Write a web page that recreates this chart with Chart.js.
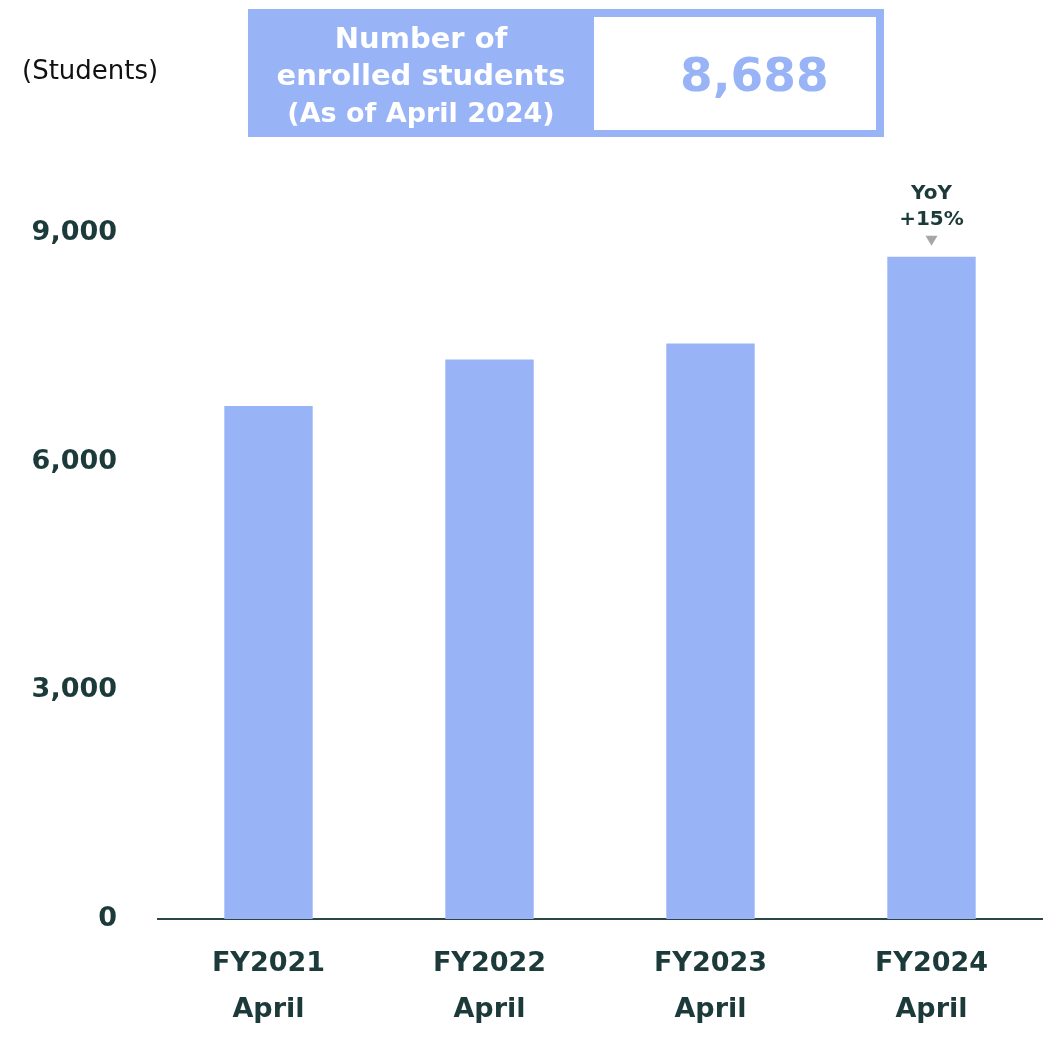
<!DOCTYPE html>
<html>
<head>
<meta charset="utf-8">
<script src="https://cdn.jsdelivr.net/npm/chart.js@4"></script>
<style>
  html, body { margin: 0; padding: 0; background: #fff; }
  #wrap { position: relative; width: 1051px; height: 1038px; overflow: hidden; }
  #chart { position: absolute; left: 0; top: 0; }
  .unit { position: absolute; left: 22px; top: 55px; font-family: "DejaVu Sans", sans-serif; font-size: 26px; color: #111; }
  .hdr { position: absolute; left: 248px; top: 9px; width: 636px; height: 128px; background: #99b4f6; }
  .hdr-left { position: absolute; left: 0; top: 2px; width: 346px; height: 128px; display: flex; flex-direction: column; justify-content: center; align-items: center; color: #fff; font-family: "DejaVu Sans", sans-serif; font-weight: bold; font-size: 29px; line-height: 37px; text-align: center; }
  .hdr-right { position: absolute; left: 346px; top: 8px; width: 282px; height: 113px; background: #fff; }
  .hdr-num { position: absolute; left: 86px; top: 30px; color: #99b4f6; font-family: "DejaVu Sans", sans-serif; font-weight: bold; font-size: 47px; line-height: 56px; }
</style>
</head>
<body>
<div id="wrap">
  <canvas id="chart" width="1051" height="1038"></canvas>
  <div class="unit">(Students)</div>
  <div class="hdr">
    <div class="hdr-left"><div>Number of</div><div>enrolled students</div><div style="font-size:27px">(As of April 2024)</div></div>
    <div class="hdr-right"><div class="hdr-num" id="total"></div></div>
  </div>
</div>
<script>
const categories = [["FY2021", "April"], ["FY2022", "April"], ["FY2023", "April"], ["FY2024", "April"]];
const students = [6730, 7340, 7550, 8688];
const yTicks = [0, 3000, 6000, 9000];
const totalLabel = "8,688";
const yoyLines = ["YoY", "+15%"];

document.getElementById('total').textContent = totalLabel;

const textColor = '#1d3a3a';
const barColor = '#99b4f6';

const yoyPlugin = {
  id: 'yoy',
  afterDatasetsDraw(chart) {
    const meta = chart.getDatasetMeta(0);
    const el = meta.data[meta.data.length - 1];
    const ctx = chart.ctx;
    ctx.save();
    ctx.fillStyle = textColor;
    ctx.font = 'bold 20px "DejaVu Sans", sans-serif';
    ctx.textAlign = 'center';
    ctx.textBaseline = 'middle';
    ctx.fillText(yoyLines[0], el.x, el.y - 63);
    ctx.fillText(yoyLines[1], el.x, el.y - 37);
    ctx.fillStyle = '#a6a6a6';
    ctx.beginPath();
    ctx.moveTo(el.x - 6, el.y - 21);
    ctx.lineTo(el.x + 6, el.y - 21);
    ctx.lineTo(el.x, el.y - 11);
    ctx.closePath();
    ctx.fill();
    ctx.restore();
  }
};

new Chart(document.getElementById('chart'), {
  type: 'bar',
  data: {
    labels: categories,
    datasets: [{
      data: students,
      backgroundColor: barColor,
      borderWidth: 0,
      categoryPercentage: 1,
      barPercentage: 0.4
    }]
  },
  options: {
    responsive: false,
    animation: false,
    layout: { padding: { top: 233, right: 9, bottom: 0, left: 0 } },
    plugins: { legend: { display: false }, tooltip: { enabled: false } },
    scales: {
      x: {
        grid: { display: false, drawTicks: false },
        border: { display: true, color: '#2c4646', width: 2 },
        ticks: {
          color: textColor,
          font: { family: '"DejaVu Sans", sans-serif', weight: 'bold', size: 27, lineHeight: 1.7 },
          padding: 22,
          maxRotation: 0,
          autoSkip: false
        },
        afterFit(scale) { scale.height = 119; }
      },
      y: {
        min: 0,
        max: 9000,
        afterBuildTicks(scale) { scale.ticks = yTicks.map(v => ({ value: v })); },
        grid: { display: false, drawTicks: false },
        border: { display: false },
        ticks: {
          color: textColor,
          font: { family: '"DejaVu Sans", sans-serif', weight: 'bold', size: 27 },
          padding: 41,
          callback: v => v.toLocaleString('en-US')
        },
        afterFit(scale) { scale.width = 158; }
      }
    }
  },
  plugins: [yoyPlugin]
});
</script>
</body>
</html>
